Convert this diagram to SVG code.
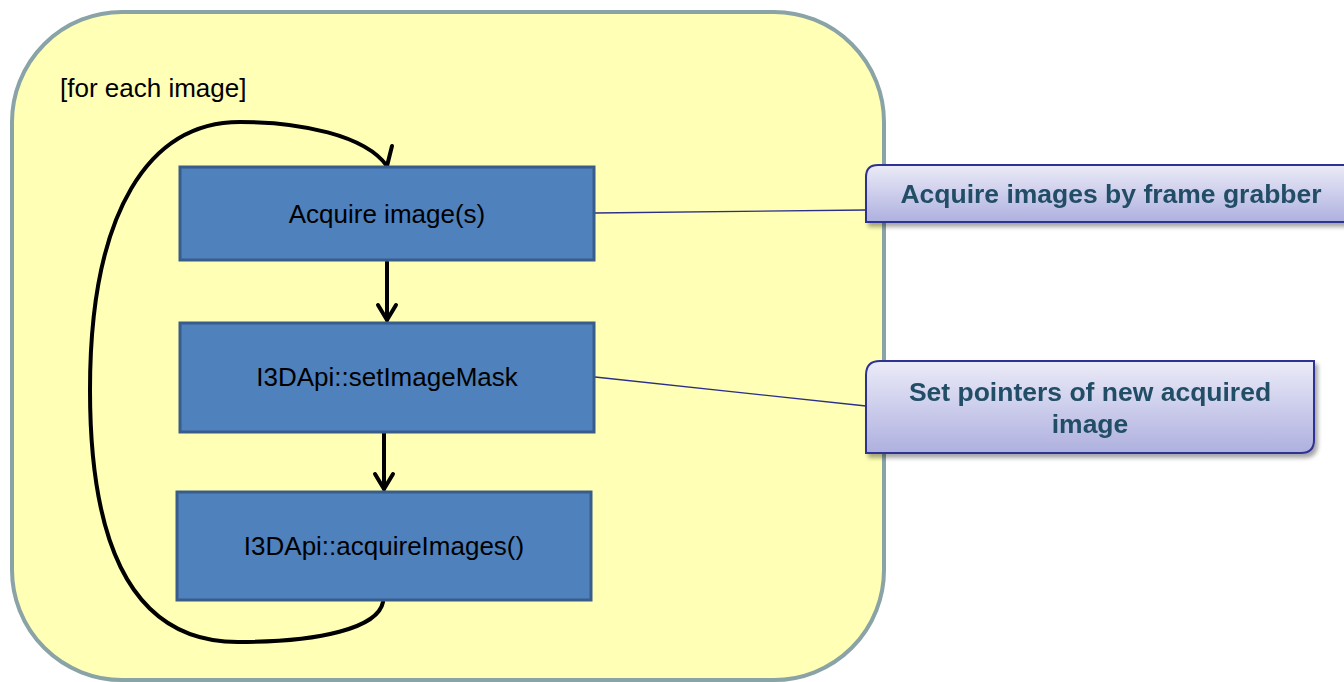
<svg xmlns="http://www.w3.org/2000/svg" width="1344" height="682" viewBox="0 0 1344 682">
<style>
.box{fill:#4f81bd;stroke:#385d8a;stroke-width:3}
.lbl{font-family:"Liberation Sans",Arial,sans-serif;font-size:26px;fill:#000;text-anchor:middle}
.note{font-family:"Liberation Sans",Arial,sans-serif;font-size:26.5px;font-weight:bold;fill:#234e66;text-anchor:middle}
.flow{fill:none;stroke:#000;stroke-width:4;stroke-linecap:round;stroke-linejoin:round}
.link{fill:none;stroke:#2b2f8a;stroke-width:1.3}
.call{fill:url(#lav);stroke:#2e3192;stroke-width:2}
</style>
<defs>
<linearGradient id="lav" x1="0" y1="0" x2="0" y2="1">
<stop offset="0" stop-color="#ebebf8"/>
<stop offset="1" stop-color="#aeb0df"/>
</linearGradient>
<filter id="sh" x="-5%" y="-20%" width="115%" height="150%">
<feGaussianBlur in="SourceAlpha" stdDeviation="2"/>
<feOffset dx="3" dy="4"/>
<feComponentTransfer><feFuncA type="linear" slope="0.35"/></feComponentTransfer>
<feMerge><feMergeNode/><feMergeNode in="SourceGraphic"/></feMerge>
</filter>
</defs>
<g id="loop-frame">
<rect x="12" y="12" width="872" height="668" rx="110" ry="110" fill="#ffffb5" stroke="#8aa3a6" stroke-width="4"/>
<text x="60" y="97" font-family="Liberation Sans,Arial,sans-serif" font-size="26" fill="#000">[for each image]</text>
</g>
<g id="connectors">
<path class="flow" d="M387,262 L387,320"/>
<path class="flow" d="M378,305 L387,320 L396,305"/>
<path class="flow" d="M384,433 L384,489"/>
<path class="flow" d="M375,474 L384,489 L393,474"/>
<path class="flow" d="M383,602 C378,628 320,642 238,642 C140,642 90,560 90,390 C90,210 150,122 240,122 C300,122 365,135 387,166"/>
<path class="flow" d="M387,166 L392,146"/>
<path class="link" d="M595,213 L866,210"/>
<path class="link" d="M595,377 L866,406"/>
</g>
<g id="acquire">
<rect class="box" x="180" y="167" width="414" height="93"/>
<text class="lbl" x="387" y="223">Acquire image(s)</text>
</g>
<g id="setmask">
<rect class="box" x="180" y="323" width="414" height="109"/>
<text class="lbl" x="387" y="386">I3DApi::setImageMask</text>
</g>
<g id="acquireImages">
<rect class="box" x="177" y="492" width="414" height="108"/>
<text class="lbl" x="384" y="555">I3DApi::acquireImages()</text>
</g>
<g id="note1" filter="url(#sh)">
<path class="call" d="M878,165 L1346,165 L1346,222 L866,222 L866,177 Q866,165 878,165 Z"/>
<text class="note" x="1111" y="203">Acquire images by frame grabber</text>
</g>
<g id="note2" filter="url(#sh)">
<path class="call" d="M880,361 L1314,361 L1314,440 Q1314,453 1301,453 L866,453 L866,375 Q866,361 880,361 Z"/>
<text class="note" x="1090" y="401">Set pointers of new acquired</text>
<text class="note" x="1090" y="433">image</text>
</g>
</svg>
